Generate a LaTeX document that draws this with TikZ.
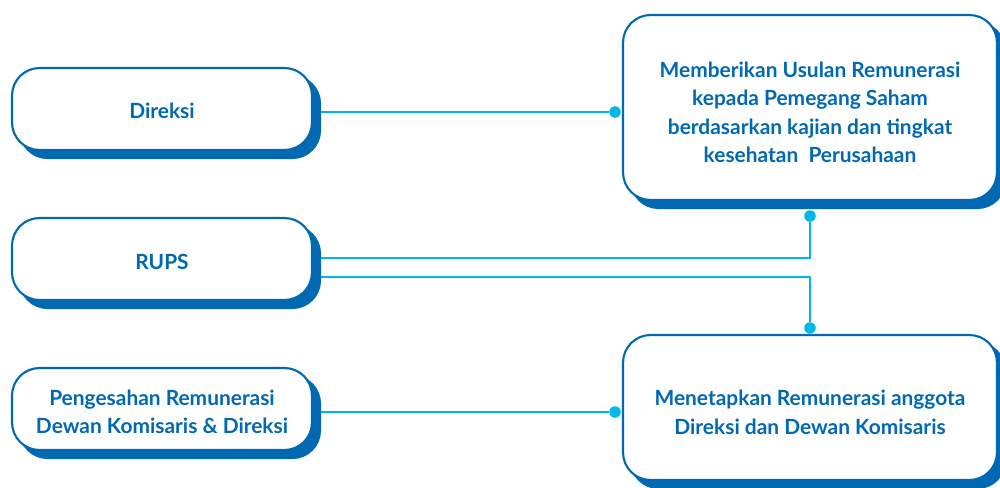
\documentclass[tikz,border=0pt]{standalone}
\usepackage{fontspec}
\setmainfont{Lato}[UprightFont=* Bold]
\usetikzlibrary{shadows,backgrounds}
\definecolor{dblue}{RGB}{0,105,178}
\definecolor{cyanline}{RGB}{0,184,230}
% centred block of lines, lowered without changing its size
\newcommand{\boxlines}[2]{\raisebox{#1}[\height][\depth]{\begin{tabular}{@{}c@{}}#2\end{tabular}}}
\tikzset{
  x=0.02cm, y=-0.02cm,
  box/.style={draw=dblue, line width=1.2pt, fill=white, rounded corners=0.55cm,
    inner sep=0pt, align=center, text=dblue,
    font=\fontsize{11.9}{16.2}\selectfont,
    copy shadow={shadow xshift=0.16cm, shadow yshift=-0.16cm, fill=dblue, draw=dblue}},
  link/.style={draw=cyanline, line width=1.2pt},
  dot/.style={circle, fill=cyanline, inner sep=0pt, minimum size=0.23cm}
}
\begin{document}
\begin{tikzpicture}
\useasboundingbox (0,0) rectangle (1000,487);
% left column
\node[box, minimum width=6cm, minimum height=1.64cm] (direksi) at (162,109)
  {\boxlines{-0.07cm}{Direksi}};
\node[box, minimum width=6cm, minimum height=1.64cm] (rups) at (162,259)
  {\boxlines{-0.1cm}{RUPS}};
\node[box, minimum width=6cm, minimum height=1.64cm] (sah) at (162,409)
  {\boxlines{-0.1cm}{Pengesahan Remunerasi\\Dewan Komisaris \& Direksi}};
% right column
\node[box, minimum width=7.48cm, minimum height=3.7cm] (usul) at (810,107.5)
  {\boxlines{-0.14cm}{Memberikan Usulan Remunerasi\\kepada Pemegang Saham\\berdasarkan kajian dan tingkat\\kesehatan\ \ Perusahaan}};
\node[box, minimum width=7.48cm, minimum height=2.9cm] (tetap) at (810,407.5)
  {\boxlines{-0.14cm}{Menetapkan Remunerasi anggota\\Direksi dan Dewan Komisaris}};
% connector end points
\node[dot] (d1) at (615,112) {};
\node[dot] (d2) at (810,216) {};
\node[dot] (d3) at (810,328) {};
\node[dot] (d4) at (615,412) {};
\coordinate (r1) at (rups.east |- 0,258);
\coordinate (r2) at (rups.east |- 0,277);
\begin{scope}[on background layer]
\draw[link] (direksi.east |- d1) -- (d1);
\draw[link] (r1) -| (d2);
\draw[link] (r2) -| (d3);
\draw[link] (sah.east |- d4) -- (d4);
\end{scope}
\end{tikzpicture}
\end{document}
